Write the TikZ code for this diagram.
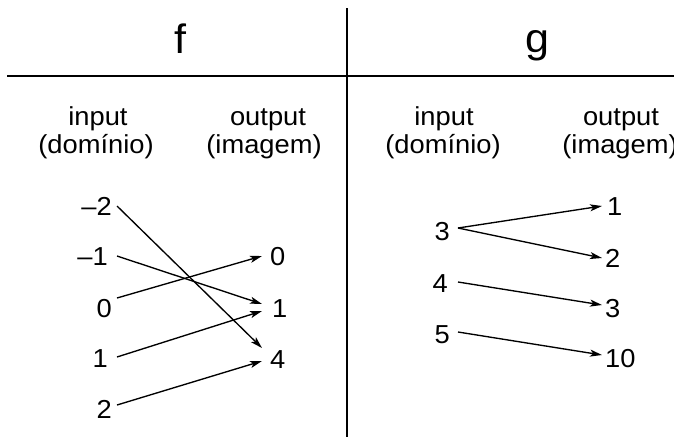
\documentclass[tikz,border=0pt]{standalone}
\usepackage{fontspec}
\setmainfont[FakeStretch=1.05]{Liberation Sans}
\usetikzlibrary{arrows.meta}
\begin{document}
\begin{tikzpicture}[x=1pt,y=-1pt,
  lbl/.style={font=\fontsize{26}{30}\selectfont, inner sep=0pt, anchor=base},
  big/.style={font=\fontsize{41}{44}\selectfont, inner sep=0pt, anchor=base},
  num/.style={font=\fontsize{26}{30}\selectfont, inner sep=0pt, text height=18pt, text depth=0pt},
  inl/.style={num, anchor=base east},
  outl/.style={num, anchor=base west},
  arr/.style={-{Stealth[length=12pt,width=7pt,inset=3pt]}, line width=1.35pt},
  rule/.style={line width=1.9pt}]
\useasboundingbox (0,0) rectangle (674,437);
% table rules
\coordinate (vt) at (347,8);
\coordinate (vb) at (347,437);
\coordinate (hl) at (7,76);
\coordinate (hr) at (674,76);
\draw[rule] (vt) -- (vb);
\draw[rule] (hl) -- (hr);
% titles
\node[big] (tf) at (180,53) {f};
\node[big] (tg) at (537,52) {g};
% headers
\node[lbl] (fi1) at (98,125) {input};
\node[lbl] (fi2) at (96,153) {(domínio)};
\node[lbl] (fo1) at (268,125) {output};
\node[lbl] (fo2) at (264,153) {(imagem)};
\node[lbl] (gi1) at (444,125) {input};
\node[lbl] (gi2) at (443,153) {(domínio)};
\node[lbl] (go1) at (621,125) {output};
\node[lbl] (go2) at (620,153) {(imagem)};
% f: inputs
\node[inl] (fa) at (112,215) {–2};
\node[inl] (fb) at (108,265) {–1};
\node[inl] (fc) at (112,317) {0};
\node[inl] (fd) at (108,367) {1};
\node[inl] (fe) at (112,418) {2};
% f: outputs
\node[outl] (fy0) at (270,265) {0};
\node[outl] (fy1) at (272,317) {1};
\node[outl] (fy4) at (270,368) {4};
% f arrows
\draw[arr] ([xshift=5pt]fa.east) -- ([xshift=-8pt,yshift=11pt]fy4.west);
\draw[arr] ([xshift=9pt]fb.east) -- ([xshift=-10pt,yshift=4pt]fy1.west);
\draw[arr] ([xshift=5pt,yshift=10pt]fc.east) -- ([xshift=-8pt]fy0.west);
\draw[arr] ([xshift=9pt,yshift=1pt]fd.east) -- ([xshift=-10pt,yshift=-3pt]fy1.west);
\draw[arr] ([xshift=5pt,yshift=4pt]fe.east) -- ([xshift=-8pt,yshift=-2pt]fy4.west);
% g: inputs
\node[inl] (ga) at (450,240) {3};
\node[inl] (gb) at (448,292) {4};
\node[inl] (gc) at (450,343) {5};
% g: outputs
\node[outl] (gy1) at (607,215) {1};
\node[outl] (gy2) at (605,267) {2};
\node[outl] (gy3) at (605,317) {3};
\node[outl] (gy10) at (605,367) {10};
% g arrows
\draw[arr] ([xshift=8pt,yshift=3pt]ga.east) -- ([xshift=-5pt]gy1.west);
\draw[arr] ([xshift=8pt,yshift=3pt]ga.east) -- ([xshift=-3pt]gy2.west);
\draw[arr] ([xshift=10pt,yshift=1pt]gb.east) -- ([xshift=-3pt,yshift=3pt]gy3.west);
\draw[arr] ([xshift=8pt,yshift=2pt]gc.east) -- ([xshift=-3pt,yshift=3pt]gy10.west);
\end{tikzpicture}
\end{document}
